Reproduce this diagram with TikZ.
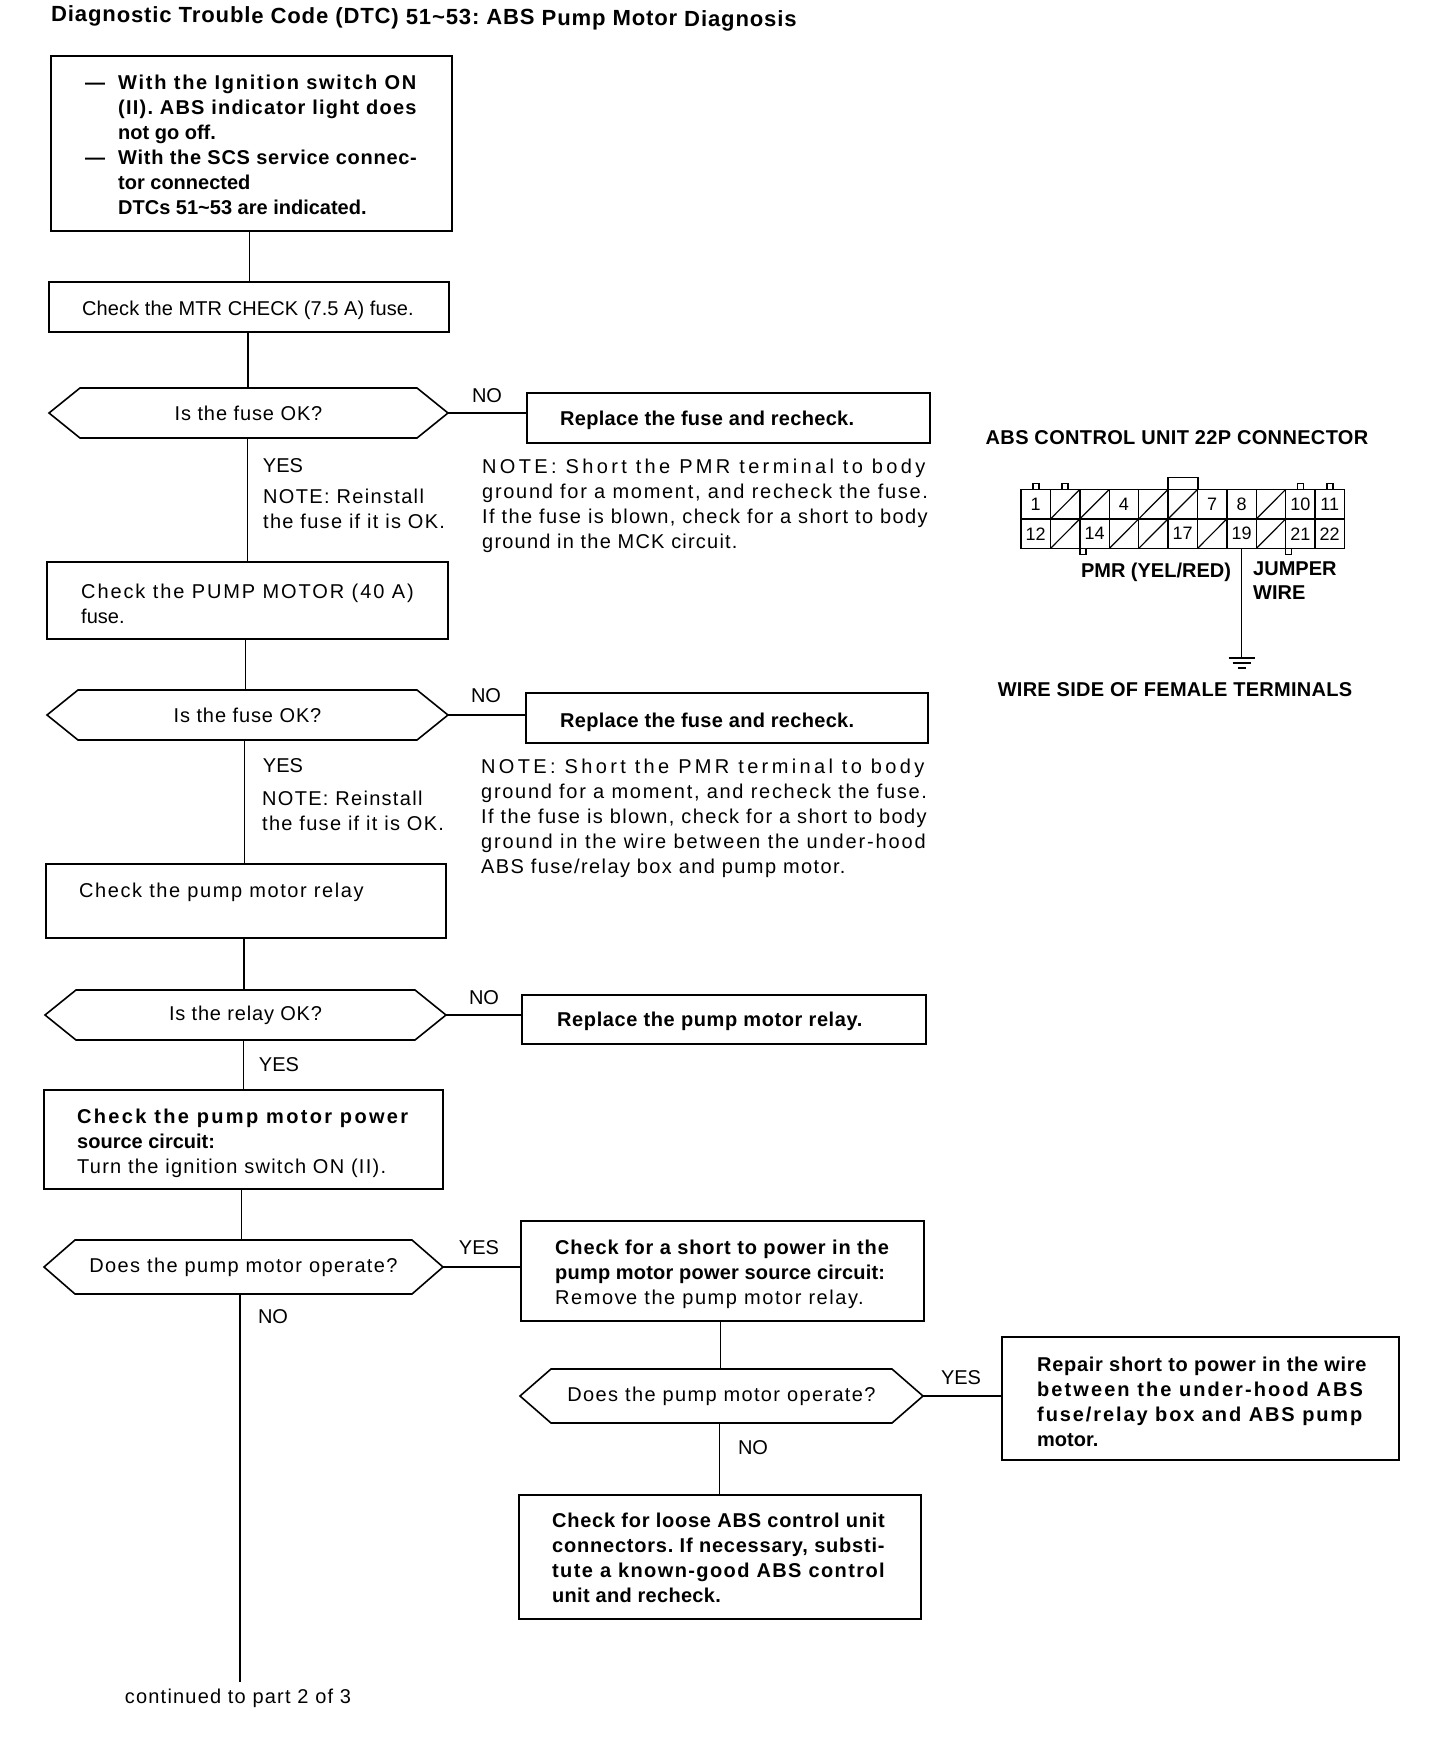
\documentclass[tikz,border=0pt]{standalone}
\usepackage{fontspec}
\setmainfont{Liberation Sans}
\AtBeginDocument{\frenchspacing}
\newcommand{\ls}[2]{{\addfontfeature{LetterSpace=#1}#2}}
\tikzset{
	flowbox/.style={draw, line width=1.6pt, anchor=north west, inner sep=0pt, outer sep=0pt},
	query/.style={anchor=west, inner sep=0pt, outer sep=0pt, font=\fontsize{20}{25}\selectfont, minimum height=50pt},
	tallquery/.style={query, minimum height=54pt},
	flowline/.style={line width=1.6pt},
	body/.style={anchor=north west, inner sep=0pt, align=left, font=\fontsize{20}{25}\selectfont},
	boldbody/.style={body, font=\fontsize{20}{25}\bfseries\selectfont},
	label/.style={inner sep=0pt, font=\fontsize{20}{25}\selectfont},
	cell/.style={draw, line width=1.4pt, minimum width=29.4pt, minimum height=29.5pt, inner sep=0pt, outer sep=0pt},
	cellline/.style={line width=1.2pt},
	celltext/.style={inner sep=0pt, font=\fontsize{18}{18}\selectfont},
	heading/.style={inner sep=0pt, font=\fontsize{20}{24}\bfseries\selectfont}
}
\begin{document}
\begin{tikzpicture}[x=1pt,y=-1pt]
	\useasboundingbox (0,0) rectangle (1440,1764);

	\node[heading, anchor=west, rotate=-0.4, font=\fontsize{22}{24}\bfseries\selectfont] (title) at (51,16) {\ls{4.1}{Diagnostic Trouble Code (DTC) 51\textasciitilde53: ABS Pump Motor Diagnosis}};

	% left column
	\node[flowbox, minimum width=401pt, minimum height=175pt] (start) at (51,56) {};
	\node[boldbody] (starttext) at (118,75) {\leavevmode\llap{---\hspace{13pt}}\ls{8.7}{With the Ignition switch ON}\\\ls{6.1}{(II). ABS indicator light does}\\not go off.\\\leavevmode\llap{---\hspace{13pt}}\ls{3.6}{With the SCS service connec-}\\tor connected\\DTCs 51\textasciitilde53 are indicated.};

	\node[flowbox, minimum width=400pt, minimum height=50pt] (mtr) at (49,282) {};
	\node[body] (mtrtext) at (82,301) {\ls{0.5}{Check the MTR CHECK (7.5 A) fuse.}};

	\node[query, minimum width=399pt] (fuseA) at (49,413) {\ls{4.5}{Is the fuse OK?}};
	\node[label] (noA) at (487,396) {NO};
	\node[flowbox, minimum width=403pt, minimum height=50pt] (replaceA) at (527,393) {};
	\node[boldbody] (replaceAtext) at (560,411) {\ls{1.5}{Replace the fuse and recheck.}};
	\node[label] (yesA) at (283,466) {YES};
	\node[body] (reinstallA) at (263,489) {\ls{6.7}{NOTE: Reinstall}\\\ls{6.5}{the fuse if it is OK.}};
	\node[body] (noteA) at (482,459) {\ls{16.8}{NOTE: Short the PMR terminal to body}\\\ls{8.5}{ground for a moment, and recheck the fuse.}\\\ls{6.9}{If the fuse is blown, check for a short to body}\\\ls{6}{ground in the MCK circuit.}};

	\node[flowbox, minimum width=401pt, minimum height=77pt] (pump) at (47,562) {};
	\node[body] (pumptext) at (81,584) {\ls{9.4}{Check the PUMP MOTOR (40 A)}\\fuse.};

	\node[query, minimum width=401pt] (fuseB) at (47,715) {\ls{4.5}{Is the fuse OK?}};
	\node[label] (noB) at (486,696) {NO};
	\node[flowbox, minimum width=402pt, minimum height=50pt] (replaceB) at (526,693) {};
	\node[boldbody] (replaceBtext) at (560,713) {\ls{1.5}{Replace the fuse and recheck.}};
	\node[label] (yesB) at (283,766) {YES};
	\node[body] (reinstallB) at (262,791) {\ls{6.5}{NOTE: Reinstall}\\\ls{6.5}{the fuse if it is OK.}};
	\node[body] (noteB) at (481,759) {\ls{16.8}{NOTE: Short the PMR terminal to body}\\\ls{8.5}{ground for a moment, and recheck the fuse.}\\\ls{6.9}{If the fuse is blown, check for a short to body}\\\ls{9.3}{ground in the wire between the under-hood}\\\ls{6.9}{ABS fuse/relay box and pump motor.}};

	\node[flowbox, minimum width=400pt, minimum height=74pt] (relay) at (46,864) {};
	\node[body] (relaytext) at (79,883) {\ls{7.9}{Check the pump motor relay}};

	\node[query, minimum width=401pt] (relayok) at (45,1015) {\ls{4}{Is the relay OK?}};
	\node[label] (noC) at (484,998) {NO};
	\node[flowbox, minimum width=404pt, minimum height=49pt] (replaceC) at (522,995) {};
	\node[boldbody] (replaceCtext) at (557,1012) {\ls{3}{Replace the pump motor relay.}};
	\node[label] (yesC) at (279,1065) {YES};

	\node[flowbox, minimum width=399pt, minimum height=99pt] (power) at (44,1090) {};
	\node[body] (powertext) at (77,1109) {\bfseries\ls{11.6}{Check the pump motor power}\\\bfseries source circuit:\\\ls{6.3}{Turn the ignition switch ON (II).}};

	\node[tallquery, minimum width=399pt] (motorA) at (44,1267) {\ls{6.8}{Does the pump motor operate?}};
	\node[label] (noD) at (273,1317) {NO};
	\coordinate (cont) at (240,1682);
	\node[label] (conttext) at (238,1698) {\ls{6}{continued to part 2 of 3}};

	% right column
	\node[label] (yesD) at (479,1248) {YES};
	\node[flowbox, minimum width=403pt, minimum height=100pt] (short) at (521,1221) {};
	\node[body] (shorttext) at (555,1240) {\bfseries\ls{4.3}{Check for a short to power in the}\\\bfseries\ls{1}{pump motor power source circuit:}\\\ls{7.7}{Remove the pump motor relay.}};

	\node[tallquery, minimum width=403pt] (motorB) at (520,1396) {\ls{6.8}{Does the pump motor operate?}};
	\node[label] (yesE) at (961,1378) {YES};
	\node[flowbox, minimum width=397pt, minimum height=123pt] (repair) at (1002,1337) {};
	\node[boldbody] (repairtext) at (1037,1357) {\ls{3.5}{Repair short to power in the wire}\\\ls{10.4}{between the under-hood ABS}\\\ls{9.5}{fuse/relay box and ABS pump}\\motor.};
	\node[label] (noE) at (753,1448) {NO};
	\node[flowbox, minimum width=402pt, minimum height=124pt] (loose) at (519,1495) {};
	\node[boldbody] (loosetext) at (552,1513) {\ls{3.7}{Check for loose ABS control unit}\\\ls{3.9}{connectors. If necessary, substi-}\\\ls{7}{tute a known-good ABS control}\\\ls{1.5}{unit and recheck.}};

	% six-sided outlines of the questions
	\foreach \q in {fuseA,fuseB,relayok,motorA,motorB}
		\draw[flowline] (\q.west) -- ([xshift=31pt]\q.north west) -- ([xshift=-31pt]\q.north east) -- (\q.east) -- ([xshift=-31pt]\q.south east) -- ([xshift=31pt]\q.south west) -- cycle;

	% connectors
	\draw[flowline] ([xshift=-2pt]start.south) -- ([xshift=-2pt]start.south |- mtr.north);
	\draw[flowline] ([xshift=-1pt]mtr.south) -- ([xshift=-1pt]mtr.south |- fuseA.north);
	\draw[flowline] ([xshift=-1pt]fuseA.south) -- ([xshift=-1pt]fuseA.south |- pump.north);
	\draw[flowline] ([xshift=-2pt]pump.south) -- ([xshift=-2pt]pump.south |- fuseB.north);
	\draw[flowline] ([xshift=-3pt]fuseB.south) -- ([xshift=-3pt]fuseB.south |- relay.north);
	\draw[flowline] ([xshift=-2pt]relay.south) -- ([xshift=-2pt]relay.south |- relayok.north);
	\draw[flowline] ([xshift=-2pt]relayok.south) -- ([xshift=-2pt]relayok.south |- power.north);
	\draw[flowline] ([xshift=-2pt]power.south) -- ([xshift=-2pt]power.south |- motorA.north);
	\draw[flowline] (cont |- motorA.south) -- (cont);

	\draw[flowline] (fuseA.east) -- (fuseA.east -| replaceA.west);
	\draw[flowline] (fuseB.east) -- (fuseB.east -| replaceB.west);
	\draw[flowline] (relayok.east) -- (relayok.east -| replaceC.west);
	\draw[flowline] (motorA.east) -- (motorA.east -| short.west);
	\draw[flowline] ([xshift=-2pt]short.south) -- ([xshift=-2pt]short.south |- motorB.north);
	\draw[flowline] (motorB.east) -- (motorB.east -| repair.west);
	\draw[flowline] ([xshift=-2pt]motorB.south) -- ([xshift=-2pt]motorB.south |- loose.north);

	% connector drawing
	\node[heading] (abs) at (1177,438) {\ls{1.7}{ABS CONTROL UNIT 22P CONNECTOR}};
	\foreach \n in {1,...,11}
		\node[cell] (c\n) at (1006.3+29.4*\n,504.25) {};
	\foreach \n in {12,...,22}
		\node[cell] (c\n) at (1006.3+29.4*\n-323.4,533.75) {};
	\foreach \n in {1,4,7,8,10,11,12,14,17,19,21,22}
		\node[celltext] (t\n) at (c\n) {\n};
	\foreach \n in {2,3,5,6,9,13,15,16,18,20}
		\draw[cellline] (c\n.south west) -- (c\n.north east);
	\foreach \n in {1,2,10,11}
		\draw[flowline] ([xshift=-3pt]c\n.north) -- ++(0,-6) -- ++(6,0) -- ++(0,6);
	\foreach \n in {14,21}
		\draw[flowline] ([xshift=-14.7pt]c\n.south) -- ++(0,6) -- ++(6,0) -- ++(0,-6);
	\draw[flowline] (c6.north west) -- ++(0,-12) -- ++(30,0) -- ++(0,12);

	\coordinate (gnd) at (c19.south |- 0,658);
	\draw[flowline] (c19.south) -- (gnd);
	\draw[flowline] ([xshift=-13pt]gnd) -- ([xshift=13pt]gnd);
	\draw[flowline] ([xshift=-9pt,yshift=-5pt]gnd) -- ([xshift=9pt,yshift=-5pt]gnd);
	\draw[flowline] ([xshift=-4pt,yshift=-10pt]gnd) -- ([xshift=4pt,yshift=-10pt]gnd);

	\node[heading] (pmr) at (1156,572) {PMR (YEL/RED)};
	\node[heading, anchor=north west, align=left] (jumper) at (1253,562) {JUMPER\\WIRE};
	\node[heading] (side) at (1175,690) {\ls{1.4}{WIRE SIDE OF FEMALE TERMINALS}};
\end{tikzpicture}
\end{document}
